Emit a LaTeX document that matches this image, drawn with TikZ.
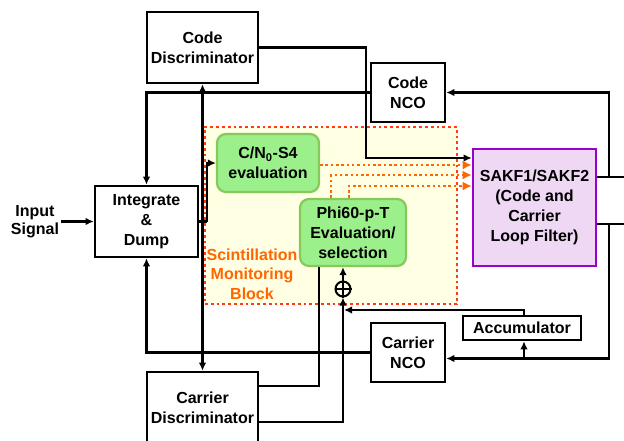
\documentclass[tikz,border=0pt]{standalone}
\usepackage{fontspec}
\setmainfont{Liberation Sans}
\usetikzlibrary{positioning, arrows.meta, calc}
\definecolor{evalfill}{RGB}{155,240,140}
\definecolor{evaldraw}{RGB}{135,200,90}
\definecolor{scintfill}{RGB}{255,255,228}
\definecolor{scintdraw}{RGB}{255,60,20}
\definecolor{scintorange}{RGB}{255,102,0}
\definecolor{sakffill}{RGB}{238,216,244}
\definecolor{sakfdraw}{RGB}{153,0,204}
\tikzset{
  block/.style={
    draw,
    rectangle,
    line width=2.6pt,
    fill=white,
    align=center,
    inner sep=0pt,
    font=\bfseries\fontsize{16}{20}\selectfont
  },
  evalbox/.style={
    block,
    draw=evaldraw,
    fill=evalfill,
    line width=2.2pt,
    rounded corners=9pt
  },
  filterbox/.style={
    block,
    draw=sakfdraw,
    fill=sakffill
  },
  wire/.style={
    line width=2.2pt
  },
  link/.style={
    wire,
    -{Latex[length=8pt,width=7.5pt]}
  },
  duallink/.style={
    wire,
    {Latex[length=8pt,width=7.5pt]}-{Latex[length=8pt,width=7.5pt]}
  },
  dotlink/.style={
    draw=scintorange,
    line width=2.5pt,
    dash pattern=on 2.5pt off 2.8pt,
    -{Latex[length=9pt,width=9pt]}
  }
}

\begin{document}
\begin{tikzpicture}[x=1pt, y=-1pt]
    \useasboundingbox (0,0) rectangle (624,440);
    \clip (0,0) rectangle (624,440);

    % scintillation monitoring block
    \node[draw=scintdraw, fill=scintfill, line width=2.8pt, dash pattern=on 2.8pt off 3pt,
          minimum width=252pt, minimum height=177pt, inner sep=0pt] (scint) at (331,215.5) {};
    \node[font=\bfseries\fontsize{16}{19.5}\selectfont, text=scintorange, align=center]
          (scintlabel) at (252,274) {Scintillation\\Monitoring\\Block};

    \node[font=\bfseries\fontsize{16}{18}\selectfont, align=center, inner sep=2pt] (input) at (35,221.5) {Input\\Signal};
    \node[block, minimum width=103pt, minimum height=71pt] (intdump) at (146.5,221.5) {Integrate\\\&\\Dump};
    \node[block, minimum width=111pt, minimum height=71pt] (codedisc) at (202.5,47.5) {Code\\Discriminator};
    \node[block, minimum width=111pt, minimum height=72pt] (cardisc) at (202.5,408) {Carrier\\Discriminator};
    \node[block, minimum width=74pt, minimum height=59pt] (codenco) at (408,92.5) {Code\\NCO};
    \node[block, minimum width=74pt, minimum height=59pt] (carriernco) at (408,352.5) {Carrier\\NCO};
    \node[block, minimum width=118pt, minimum height=24pt] (accum) at (522,328) {Accumulator};
    \node[evalbox, minimum width=102pt, minimum height=58pt] (cnos4) at (268,163) {C/N\textsubscript{0}-S4\\evaluation};
    \node[evalbox, minimum width=106pt, minimum height=67pt] (phi) at (353,232.5) {Phi60-p-T\\Evaluation/\\selection};
    \node[filterbox, minimum width=123pt, minimum height=117pt] (sakf) at (534.5,207.5) {SAKF1/SAKF2\\(Code and\\Carrier\\Loop Filter)};
    \node[circle, draw, line width=2pt, minimum size=15pt, inner sep=0pt] (sum) at (343,289) {};
    \draw[line width=2pt] (sum.north) -- (sum.south) (sum.west) -- (sum.east);

    % code loop
    \draw[link] (input) -- (intdump);
    \draw[duallink] (codedisc.south) -- (cardisc.north);
    \draw[wire] (intdump.east) -- (207,221.5);
    \draw[link] (207,221.5) |- (cnos4.west);
    \draw[link] (codedisc.east) -- (366,47.5) |- (sakf.west |- 0,158);
    \draw[link] (codenco.west) -| (intdump.north);
    \draw[wire] (sakf.east |- 0,177) -- (624,177);
    \draw[link] (609,177) |- (codenco.east);

    % carrier loop
    \draw[wire] (sakf.east |- 0,224) -- (624,224);
    \draw[link] (609,224) |- ([yshift=-6pt]carriernco.east);
    \draw[link] (524,358.5) -- (accum.south -| 524,0);
    \draw[link, shorten >=1pt] (accum.north -| 524,0) |- (sum.center |- 0,310);
    \draw[link] (cardisc.east |- 0,422) -| (sum.south);
    \draw[link] (sum.north) -- (phi.south -| sum.north);
    \draw[wire] (phi.south -| 319,0) |- (cardisc.east |- 0,386);
    \draw[link] (carriernco.west) -| (intdump.south);

    % scintillation outputs
    \draw[dotlink] ([yshift=-2pt]cnos4.east) -- (sakf.west |- 0,165);
    \draw[dotlink] (phi.north -| 331,0) |- (sakf.west |- 0,175);
    \draw[dotlink] (phi.north -| 349,0) |- (sakf.west |- 0,186);
\end{tikzpicture}
\end{document}
